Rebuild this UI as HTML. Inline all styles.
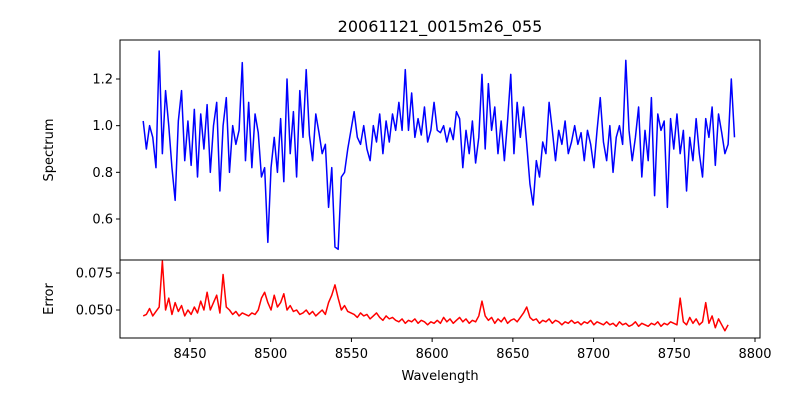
<!DOCTYPE html>
<html><head><meta charset="utf-8"><style>
body{margin:0;background:#fff;font-family:"Liberation Sans","DejaVu Sans",sans-serif;}
svg text{font-family:"DejaVu Sans","Liberation Sans",sans-serif;font-size:13px;fill:#000;}
</style></head><body>
<svg id="c" width="800" height="400" xmlns="http://www.w3.org/2000/svg">
<rect width="800" height="400" fill="#fff"/>
<text x="440" y="32" text-anchor="middle" style="font-size:16px">20061121_0015m26_055</text>
<g id="topg"></g><g id="botg"></g>
<text x="440" y="380" text-anchor="middle">Wavelength</text>
<text transform="translate(53,150) rotate(-90)" text-anchor="middle">Spectrum</text>
<text transform="translate(53,299) rotate(-90)" text-anchor="middle">Error</text>
</svg>
<script>
const wlStart = 8421, wlStep = 1.98;
const flux = [1.02,0.9,1.0,0.95,0.82,1.32,0.88,1.15,1.0,0.82,0.68,1.02,1.15,0.85,1.02,0.83,1.07,0.78,1.05,0.9,1.09,0.8,1.0,1.1,0.72,1.0,1.12,0.8,1.0,0.92,0.98,1.27,0.85,1.1,0.82,1.05,0.97,0.78,0.82,0.5,0.82,0.95,0.8,1.03,0.76,1.2,0.88,1.06,0.78,1.15,0.95,1.24,0.96,0.85,1.05,0.97,0.88,0.92,0.65,0.82,0.48,0.47,0.78,0.8,0.9,0.98,1.06,0.95,0.92,1.0,0.9,0.85,1.0,0.93,1.05,0.88,1.02,0.93,1.05,0.98,1.1,0.98,1.24,0.98,1.14,0.95,1.03,0.96,1.08,0.93,0.98,1.1,0.98,0.97,1.0,0.93,0.99,0.94,1.06,1.03,0.82,0.98,0.88,1.02,0.84,0.95,1.22,0.9,1.18,0.98,1.08,0.88,1.02,0.85,1.02,1.22,0.88,1.1,0.95,1.08,0.92,0.75,0.66,0.85,0.78,0.93,0.88,1.1,0.98,0.85,0.98,0.92,1.02,0.88,0.93,1.0,0.92,0.97,0.85,0.98,0.92,0.82,0.98,1.12,0.93,0.85,1.0,0.8,0.95,1.0,0.92,1.28,0.98,0.85,0.95,1.08,0.78,0.98,0.85,1.12,0.7,1.05,0.98,1.02,0.65,1.03,0.9,1.05,0.88,0.98,0.72,0.95,0.85,1.03,0.88,0.78,1.03,0.95,1.08,0.83,1.05,0.97,0.88,0.92,1.2,0.95];
const err = [0.046,0.047,0.051,0.046,0.049,0.052,0.083,0.05,0.058,0.047,0.055,0.049,0.053,0.046,0.05,0.047,0.052,0.048,0.056,0.05,0.062,0.05,0.055,0.06,0.048,0.074,0.052,0.05,0.047,0.049,0.046,0.048,0.047,0.046,0.048,0.047,0.05,0.058,0.062,0.055,0.05,0.06,0.052,0.055,0.061,0.05,0.053,0.049,0.05,0.047,0.048,0.05,0.047,0.049,0.046,0.048,0.05,0.047,0.055,0.06,0.067,0.058,0.05,0.053,0.049,0.048,0.047,0.045,0.048,0.046,0.047,0.044,0.046,0.048,0.045,0.043,0.046,0.044,0.045,0.043,0.042,0.044,0.041,0.043,0.042,0.044,0.041,0.043,0.042,0.04,0.042,0.041,0.043,0.041,0.045,0.042,0.044,0.041,0.043,0.045,0.042,0.044,0.041,0.043,0.042,0.046,0.056,0.046,0.043,0.045,0.041,0.044,0.042,0.045,0.041,0.043,0.044,0.042,0.045,0.048,0.052,0.045,0.043,0.044,0.041,0.043,0.042,0.044,0.041,0.043,0.042,0.04,0.042,0.041,0.043,0.041,0.042,0.04,0.042,0.041,0.043,0.04,0.042,0.041,0.04,0.042,0.04,0.041,0.039,0.042,0.04,0.041,0.039,0.04,0.042,0.039,0.041,0.04,0.039,0.041,0.04,0.042,0.039,0.041,0.04,0.042,0.041,0.04,0.058,0.042,0.04,0.045,0.041,0.044,0.04,0.042,0.055,0.041,0.046,0.038,0.044,0.04,0.036,0.04];
const xTicks = [8450,8500,8550,8600,8650,8700,8750,8800];
const topTicks = [0.6,0.8,1.0,1.2];
const botTicks = [0.050,0.075];

const NS='http://www.w3.org/2000/svg';
const L=120,R=760;
const xs=w=>190+(w-8450)*(565/350);
const ysTop=v=>79+(1.2-v)*233.33;
const ysBot=v=>310-(v-0.05)*1480;
function el(t,a,p){const e=document.createElementNS(NS,t);for(const k in a)e.setAttribute(k,a[k]);p.appendChild(e);return e;}
const topG=document.getElementById('topg'),botG=document.getElementById('botg');

function panel(g,y0,y1,ys,ticks,fmt,data,color,name){
  const pts=data.map((v,i)=>xs(wlStart+i*wlStep).toFixed(2)+','+ys(v).toFixed(2)).join(' ');
  const line=el('polyline',{points:pts,fill:'none',stroke:color,'stroke-width':1.5,'stroke-linejoin':'round'},g);
  
  
  const fr=el('rect',{x:L,y:y0,width:R-L,height:y1-y0,fill:'none',stroke:'#000','stroke-width':1},g);
  
  
  ticks.forEach(t=>{
    const y=ys(t);
    el('line',{x1:L-4,x2:L,y1:y,y2:y,stroke:'#000'},g);
    const tx=el('text',{x:L-7,y:y+4.5,'text-anchor':'end'},g);
    tx.textContent=fmt(t);
    
    
  });
}
panel(topG,40,260,ysTop,topTicks,t=>t.toFixed(1),flux,'#0000ff','spectrum');
panel(botG,260,338,ysBot,botTicks,t=>t.toFixed(3),err,'#ff0000','error');
xTicks.forEach(t=>{
  const x=xs(t);
  el('line',{x1:x,x2:x,y1:338,y2:342,stroke:'#000'},botG);
  const tx=el('text',{x:x,y:358,'text-anchor':'middle'},botG);
  tx.textContent=t;
  
  
});
</script>
</body></html>
